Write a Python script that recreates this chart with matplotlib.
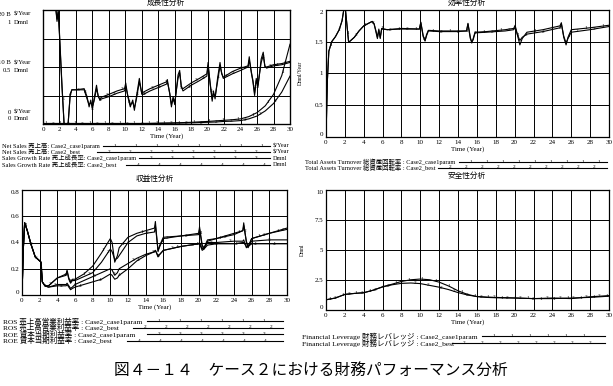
import numpy as np
import matplotlib
matplotlib.use('Agg')
import matplotlib.pyplot as plt

plt.rcParams['font.family'] = ['Liberation Serif', 'Noto Sans CJK JP']
plt.rcParams['axes.unicode_minus'] = False
JP = ['Noto Sans CJK JP', 'DejaVu Sans']

# 成長性分析: 売上成長率 (Dmnl)
t_growth = [0, 1.0, 1.5, 1.7, 1.85, 2.0, 2.3, 2.6, 3.0, 3.3, 3.5, 4.0, 5.0, 5.35, 5.6, 5.8, 6.0, 6.2,
            6.5, 6.7, 6.9, 7.1, 8.0, 9.0, 9.9, 10.05, 10.3, 10.6, 10.9, 11.1, 11.35, 11.7, 12.0, 12.2,
            13, 14, 15.0, 15.1, 15.4, 15.6, 15.8, 16.0, 16.4, 16.6, 16.8, 17.0, 18, 19, 19.9, 20.05,
            20.3, 20.55, 20.7, 20.9, 21.2, 21.5, 21.7, 21.9, 23, 24, 24.9, 25.05, 25.3, 25.5, 25.7,
            25.9, 26.1, 26.5, 26.75, 26.95, 27.15, 28, 29, 30]
growth_case1 = [1.3, 1.15, 1.05, 0.92, 1.0, 0.8, 0.35, -0.05, -0.05, 0.25, 0.30, 0.30, 0.31, 0.24,
                0.15, 0.21, 0.13, 0.22, 0.34, 0.24, 0.22, 0.235, 0.26, 0.29, 0.31, 0.36, 0.24, 0.15,
                0.21, 0.12, 0.24, 0.40, 0.26, 0.28, 0.31, 0.34, 0.37, 0.39, 0.26, 0.15, 0.24, 0.17,
                0.43, 0.47, 0.32, 0.31, 0.36, 0.40, 0.44, 0.54, 0.35, 0.20, 0.29, 0.22, 0.40, 0.54,
                0.44, 0.41, 0.46, 0.49, 0.51, 0.59, 0.45, 0.37, 0.25, 0.40, 0.32, 0.57, 0.63, 0.50,
                0.50, 0.52, 0.53, 0.55]
growth_best = [1.3, 1.15, 1.05, 0.90, 0.98, 0.78, 0.33, -0.05, -0.05, 0.26, 0.30, 0.30, 0.30, 0.22,
               0.17, 0.19, 0.15, 0.20, 0.31, 0.25, 0.21, 0.22, 0.24, 0.27, 0.29, 0.33, 0.25, 0.17,
               0.19, 0.14, 0.22, 0.37, 0.27, 0.26, 0.29, 0.32, 0.35, 0.37, 0.27, 0.17, 0.22, 0.19,
               0.40, 0.45, 0.33, 0.29, 0.34, 0.38, 0.42, 0.51, 0.36, 0.22, 0.27, 0.24, 0.37, 0.51,
               0.45, 0.40, 0.44, 0.47, 0.50, 0.56, 0.46, 0.38, 0.27, 0.38, 0.34, 0.54, 0.60, 0.51,
               0.49, 0.51, 0.52, 0.54]
# 売上高 (B $/Year)
t_sales = [0, 2, 4, 6, 8, 10, 12, 14, 16, 18, 20, 21, 22, 23, 24, 25, 26, 27, 28, 29, 30]
sales_case1 = [0.1, 0.1, 0.1, 0.1, 0.1, 0.1, 0.1, 0.15, 0.2, 0.3, 0.45, 0.55, 0.65, 0.75, 0.9,
               1.3, 2.0, 3.2, 5.2, 8.5, 14.0]
sales_best = [0.05, 0.05, 0.05, 0.05, 0.05, 0.05, 0.05, 0.1, 0.15, 0.2, 0.3, 0.35, 0.45, 0.5, 0.6,
              0.9, 1.4, 2.3, 3.6, 5.6, 8.4]

# 効率性分析: 総資産回転率
t_tat = [0, 0.15, 0.3, 0.6, 1.0, 1.4, 1.7, 1.85, 2.0, 2.4, 3.0, 3.5, 4.0, 4.5, 4.9, 5.1, 5.3, 5.45,
         5.6, 5.75, 5.9, 6.5, 8, 9.9, 10.05, 10.3, 10.5, 10.65, 10.85, 12, 14, 14.9, 15.05, 15.3,
         15.45, 15.6, 15.8, 17, 19, 19.9, 20.05, 20.3, 20.55, 20.8, 21.3, 23, 24.8, 24.95, 25.2,
         25.45, 25.65, 26.0, 28, 30]
tat_case1 = [0, 0.9, 1.35, 1.5, 1.58, 1.69, 1.83, 1.97, 2.1, 1.49, 1.57, 1.67, 1.75, 1.79, 1.82,
             1.78, 1.67, 1.57, 1.70, 1.55, 1.71, 1.69, 1.71, 1.70, 1.81, 1.60, 1.51, 1.61, 1.68,
             1.67, 1.67, 1.67, 1.79, 1.57, 1.48, 1.55, 1.65, 1.66, 1.69, 1.71, 1.76, 1.60, 1.45,
             1.55, 1.65, 1.69, 1.75, 1.80, 1.57, 1.45, 1.57, 1.69, 1.72, 1.76]
tat_best = [0, 0.9, 1.35, 1.5, 1.58, 1.69, 1.83, 1.97, 2.1, 1.49, 1.57, 1.67, 1.75, 1.79, 1.82,
            1.78, 1.65, 1.55, 1.68, 1.57, 1.70, 1.69, 1.70, 1.70, 1.80, 1.58, 1.52, 1.59, 1.67,
            1.66, 1.66, 1.67, 1.78, 1.55, 1.50, 1.53, 1.64, 1.65, 1.67, 1.69, 1.73, 1.61, 1.52,
            1.57, 1.62, 1.66, 1.72, 1.78, 1.59, 1.48, 1.55, 1.65, 1.69, 1.74]

# 収益性分析: ROS / ROE
t_prof = [0, 0.15, 0.3, 0.6, 1.0, 1.5, 2.0, 2.15, 2.3, 2.6, 3, 4, 5, 5.1, 5.3, 5.5, 5.7, 6, 7, 8,
          9, 10, 10.2, 10.5, 10.8, 11, 12, 13, 14, 15, 15.1, 15.4, 15.6, 16, 18, 20, 20.1, 20.4,
          20.6, 21, 22, 24, 25, 25.1, 25.4, 25.6, 26, 28, 30]
ros_case1 = [0, 0.35, 0.55, 0.49, 0.39, 0.29, 0.26, 0.25, 0.10, 0.07, 0.07, 0.13, 0.16, 0.19, 0.13,
             0.10, 0.12, 0.12, 0.16, 0.22, 0.32, 0.43, 0.40, 0.25, 0.30, 0.36, 0.44, 0.47, 0.49,
             0.51, 0.56, 0.33, 0.38, 0.44, 0.45, 0.47, 0.52, 0.38, 0.36, 0.42, 0.43, 0.47, 0.49,
             0.55, 0.40, 0.36, 0.43, 0.47, 0.51]
ros_best = [0, 0.35, 0.55, 0.49, 0.39, 0.29, 0.26, 0.25, 0.10, 0.07, 0.07, 0.13, 0.15, 0.18, 0.12,
            0.09, 0.11, 0.11, 0.14, 0.17, 0.25, 0.35, 0.33, 0.27, 0.28, 0.30, 0.40, 0.45, 0.47,
            0.48, 0.53, 0.34, 0.37, 0.43, 0.45, 0.46, 0.50, 0.37, 0.35, 0.41, 0.43, 0.46, 0.49,
            0.53, 0.41, 0.37, 0.43, 0.47, 0.50]
roe_case1 = [0, 0.35, 0.55, 0.49, 0.39, 0.29, 0.26, 0.25, 0.10, 0.07, 0.06, 0.08, 0.08, 0.09, 0.07,
             0.05, 0.06, 0.08, 0.11, 0.14, 0.17, 0.20, 0.19, 0.15, 0.17, 0.20, 0.24, 0.28, 0.31,
             0.33, 0.34, 0.29, 0.31, 0.34, 0.37, 0.39, 0.40, 0.35, 0.36, 0.40, 0.40, 0.41, 0.41,
             0.42, 0.36, 0.37, 0.41, 0.42, 0.42]
roe_best = [0, 0.35, 0.55, 0.49, 0.39, 0.29, 0.26, 0.25, 0.10, 0.07, 0.06, 0.07, 0.07, 0.08, 0.06,
            0.04, 0.05, 0.06, 0.08, 0.10, 0.12, 0.16, 0.15, 0.12, 0.13, 0.15, 0.20, 0.26, 0.30,
            0.33, 0.34, 0.30, 0.31, 0.34, 0.37, 0.39, 0.39, 0.34, 0.35, 0.38, 0.39, 0.39, 0.40,
            0.40, 0.37, 0.37, 0.39, 0.39, 0.39]

# 安全性分析: 財務レバレッジ
t_lev = [0, 1, 2, 3, 4, 5, 6, 7, 8, 9, 10, 11, 12, 13, 14, 15, 16, 17, 18, 20, 22, 24, 26, 28, 30]
lev_case1 = [0.85, 1.0, 1.3, 1.38, 1.44, 1.65, 1.94, 2.15, 2.38, 2.52, 2.58, 2.52, 2.32, 2.0, 1.6,
             1.3, 1.12, 1.05, 1.02, 1.0, 0.95, 0.95, 1.0, 1.05, 1.15]
lev_best = [0.85, 1.0, 1.3, 1.38, 1.44, 1.65, 1.92, 2.1, 2.22, 2.25, 2.2, 2.05, 1.9, 1.7, 1.45,
            1.25, 1.12, 1.08, 1.05, 1.0, 0.95, 1.0, 0.95, 1.1, 1.2]

years = list(range(0, 31, 2))

W, H = 613, 386
fig = plt.figure(figsize=(W / 100, H / 100), dpi=100)
renderer = fig.canvas.get_renderer()


def box(l, t, r, b):
    return fig.add_axes([l / W, 1 - b / H, (r - l) / W, (b - t) / H])


def frame(ax, ymax, yticks, show_y=True):
    ax.set_xlim(0, 30)
    ax.set_ylim(0, ymax)
    ax.set_xticks(years)
    ax.set_yticks(yticks)
    ax.tick_params(length=0, labelsize=5, pad=2)
    if not show_y:
        ax.set_yticklabels([])
    ax.grid(True, color='black', lw=0.7)
    ax.set_axisbelow(True)
    for s in ax.spines.values():
        s.set_linewidth(0.9)
    ax.set_xlabel('Time (Year)', fontsize=5, labelpad=1)


def curve(ax, t, y, tag, start, step=1.8):
    ax.plot(t, y, color='black', lw=0.8)
    mt = np.arange(start, 30, step)
    my = np.interp(mt, t, y)
    for a, b in zip(mt, my):
        ax.text(a, b, tag, fontsize=3.8, ha='center', va='center', clip_on=True)


# --- 成長性分析
ax1 = box(43, 10, 290, 124)
frame(ax1, 1, [0, 0.25, 0.5, 0.75, 1], show_y=False)
ax1b = ax1.twinx()
ax1b.set_ylim(0, 20)
ax1b.set_yticks([])
curve(ax1b, t_sales, sales_case1, '1', 0.3)
curve(ax1b, t_sales, sales_best, '2', 1.2)
curve(ax1, t_growth, growth_case1, '3', 0.6)
curve(ax1, t_growth, growth_best, '4', 1.5)

# --- 効率性分析
ax2 = box(326, 10, 609, 137)
frame(ax2, 2, [0, 0.5, 1, 1.5, 2])
ax2.set_yticklabels(['0', '0.5', '1', '1.5', '2'])
curve(ax2, t_tat, tat_case1, '1', 0.5)
curve(ax2, t_tat, tat_best, '2', 1.4)

# --- 収益性分析
ax3 = box(22, 190, 287, 295)
frame(ax3, 0.8, [0, 0.2, 0.4, 0.6, 0.8])
ax3.set_yticklabels(['0', '0.2', '0.4', '0.6', '0.8'])
curve(ax3, t_prof, ros_case1, '1', 0.4, 2.2)
curve(ax3, t_prof, ros_best, '2', 1.0, 2.2)
curve(ax3, t_prof, roe_case1, '3', 1.6, 2.2)
curve(ax3, t_prof, roe_best, '4', 2.2, 2.2)

# --- 安全性分析
ax4 = box(326, 190, 609, 310)
frame(ax4, 10, [0, 2.5, 5, 7.5, 10])
ax4.set_yticklabels(['0', '2.5', '5', '7.5', '10'])
curve(ax4, t_lev, lev_case1, '1', 0.4, 1.4)
curve(ax4, t_lev, lev_best, '2', 1.0, 1.4)

# 上下端の目盛ラベルは内側へ寄せる
for ax in (ax2, ax3, ax4):
    labs = ax.get_yticklabels()
    labs[0].set_va('bottom')
    labs[-1].set_va('top')

# --- overlay: titles, units, legends, caption
ov = fig.add_axes([0, 0, 1, 1])
ov.set_xlim(0, W)
ov.set_ylim(H, 0)
ov.axis('off')

for x, y, s in [(166, 2.5, '成長性分析'), (467, 2.5, '効率性分析'),
                (155, 179, '収益性分析'), (467, 176, '安全性分析')]:
    ov.text(x, y, s, fontsize=5.5, family=JP, ha='center', va='center')

for y, num, unit in [(14, '20 B', '$/Year'), (22, '1', 'Dmnl'),
                     (63, '10 B', '$/Year'), (71, '0.5', 'Dmnl'),
                     (112, '0', '$/Year'), (119, '0', 'Dmnl')]:
    ov.text(11, y, num, fontsize=4.8, ha='right', va='center')
    ov.text(14, y, unit, fontsize=4.8, ha='left', va='center')

ov.text(300, 73, 'Dmnl/Year', fontsize=4, rotation=90, ha='center', va='center')
ov.text(302, 250, 'Dmnl', fontsize=4, rotation=90, ha='center', va='center')


def legend_group(x0, lx1, step, rows):
    # 先頭行の幅に合わせて文字サイズを決め、同じサイズを全行に使う
    first = rows[0]
    probe = ov.text(x0, first[0], first[1], fontsize=5, ha='left', va='center')
    w = probe.get_window_extent(renderer).width
    probe.remove()
    size = min(5.6, 5 * (first[2] - 4 - x0) / w)
    for y, label, lx0, tag, unit in rows:
        ov.text(x0, y, label, fontsize=size, ha='left', va='center')
        ov.plot([lx0, lx1], [y, y], color='black', lw=0.8)
        for xm in np.arange(lx0 + 12, lx1 - 4, step):
            ov.text(xm, y, tag, fontsize=3.8, ha='center', va='center')
        if unit:
            ov.text(lx1 + 3, y, unit, fontsize=4.5, ha='left', va='center')


legend_group(2, 270, 21, [
    (146, 'Net Sales 売上高: Case2_case1param', 103, '1', '$/Year'),
    (152, 'Net Sales 売上高: Case2_best', 97, '2', '$/Year'),
    (158, 'Sales Growth Rate 売上成長率: Case2_case1param', 139, '3', 'Dmnl'),
    (164.5, 'Sales Growth Rate 売上成長率: Case2_best', 126, '4', 'Dmnl'),
])
legend_group(305, 607, 16, [
    (162, 'Total Assets Turnover 総資産回転率 : Case2_case1param', 459, '1', None),
    (167.5, 'Total Assets Turnover 総資産回転率 : Case2_best', 438, '2', None),
])
legend_group(3, 283, 21, [
    (321, 'ROS 売上高営業利益率 : Case2_case1param', 147, '1', None),
    (327.5, 'ROS 売上高営業利益率 : Case2_best', 133, '2', None),
    (334, 'ROE 資本当期利益率 : Case2_case1param', 147, '3', None),
    (340.5, 'ROE 資本当期利益率 : Case2_best', 127, '4', None),
])
legend_group(302, 605, 18, [
    (336, 'Financial Leverage 財務レバレッジ : Case2_case1param', 482, '1', None),
    (343, 'Financial Leverage 財務レバレッジ : Case2_best', 452, '2', None),
])

ov.text(311, 370, '図４－１４　ケース２における財務パフォーマンス分析',
        fontsize=11.3, family=JP, ha='center', va='center')

fig.savefig('out.png', dpi=100)
